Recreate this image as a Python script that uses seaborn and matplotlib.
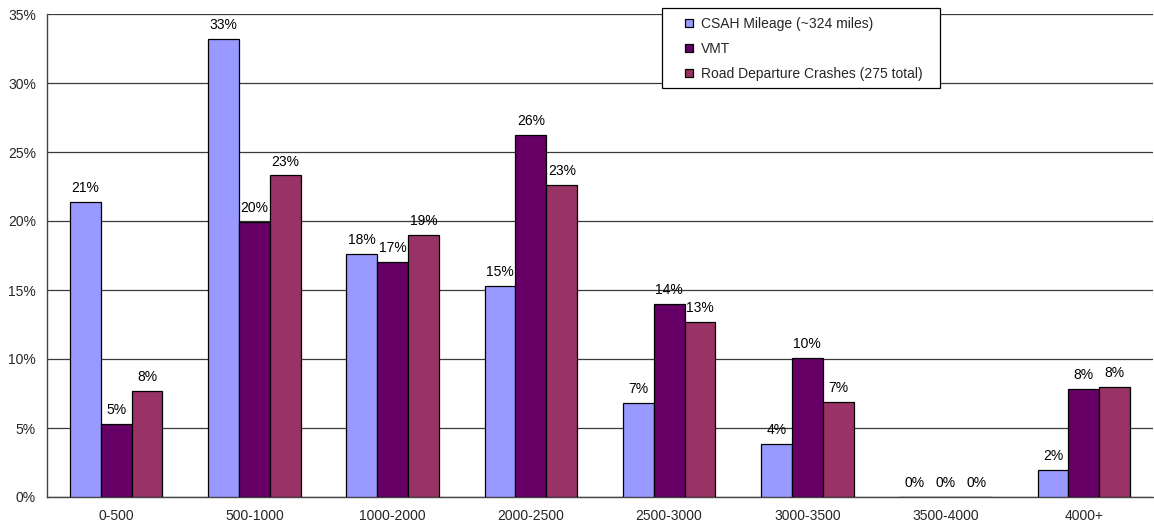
import matplotlib
matplotlib.use("Agg")
import matplotlib.pyplot as plt
from matplotlib.patches import Rectangle
from matplotlib.ticker import FixedLocator, PercentFormatter
import seaborn as sns
import pandas as pd

# Daily traffic volume bands (ADT)
categories = ["0-500", "500-1000", "1000-2000", "2000-2500",
              "2500-3000", "3000-3500", "3500-4000", "4000+"]

# Share of each measure falling in each band (%)
csah_mileage = [21.4, 33.2, 17.6, 15.3, 6.8, 3.84, 0.0, 1.93]
vmt = [5.3, 19.9, 17.0, 26.2, 14.0, 10.07, 0.0, 7.8]
crashes = [7.7, 23.3, 19.0, 22.6, 12.7, 6.9, 0.0, 8.0]

series_names = ["CSAH Mileage (~324 miles)", "VMT",
                "Road Departure Crashes (275 total)"]
series_colors = ["#9999FF", "#660066", "#993366"]

y_ticks = [0, 5, 10, 15, 20, 25, 30, 35]

df = pd.DataFrame({
    "band": categories * 3,
    "series": [series_names[0]] * 8 + [series_names[1]] * 8 + [series_names[2]] * 8,
    "share": csah_mileage + vmt + crashes,
})

sns.set_style("white")
plt.rcParams["font.family"] = ["Liberation Sans", "DejaVu Sans"]

W, H = 1154, 527
fig = plt.figure(figsize=(W / 100, H / 100), dpi=100)
ax = fig.add_axes([47 / W, 1 - 497 / H, 1106 / W, 483 / H])

sns.barplot(data=df, x="band", y="share", hue="series",
            order=categories, hue_order=series_names,
            palette=dict(zip(series_names, series_colors)), saturation=1,
            width=0.67, gap=0, edgecolor="black", linewidth=0.9,
            errorbar=None, ax=ax, zorder=3)

for cont in ax.containers:
    ax.bar_label(cont, labels=[f"{v:.0f}%" for v in cont.datavalues],
                 padding=5, fontsize=10, color="black")

ax.set_xlim(-0.5, len(categories) - 0.5)
ax.set_ylim(0, 35)
ax.yaxis.set_major_locator(FixedLocator(y_ticks))
ax.yaxis.set_major_formatter(PercentFormatter(decimals=0))
ax.grid(axis="y", color="#3a3a3a", linewidth=0.9, zorder=0)
ax.set_axisbelow(True)

ax.set_xlabel("")
ax.set_ylabel("")

# Tick marks sit on the band boundaries, labels in the centres
ax.xaxis.set_minor_locator(FixedLocator([i + 0.5 for i in range(len(categories) - 1)]))
ax.tick_params(axis="x", which="major", length=0, labelsize=10, pad=9)
ax.tick_params(axis="x", which="minor", length=4, width=0.8, color="#444444", direction="out")
ax.tick_params(axis="y", which="major", length=4, width=0.8, color="#444444",
               direction="out", labelsize=10, pad=4)

for side in ["top", "right"]:
    ax.spines[side].set_visible(False)
for side in ["left", "bottom"]:
    ax.spines[side].set_color("#444444")
    ax.spines[side].set_linewidth(1.0)

# Legend: boxed panel overlapping the top gridline
handles, labels = ax.get_legend_handles_labels()
ax.get_legend().remove()
fig.patches.append(Rectangle((662 / W, 1 - 88 / H), 278 / W, 80 / H,
                             transform=fig.transFigure, facecolor="white",
                             edgecolor="black", linewidth=0.9, zorder=4))
fig.legend(handles, labels, loc="upper left",
           bbox_to_anchor=(685 / W, 1 - 17 / H), bbox_transform=fig.transFigure,
           fontsize=10, frameon=False, borderpad=0, borderaxespad=0,
           labelspacing=0.8, handlelength=0.55, handleheight=0.55,
           handletextpad=0.58).set_zorder(6)

fig.savefig("out.png", dpi=100)
